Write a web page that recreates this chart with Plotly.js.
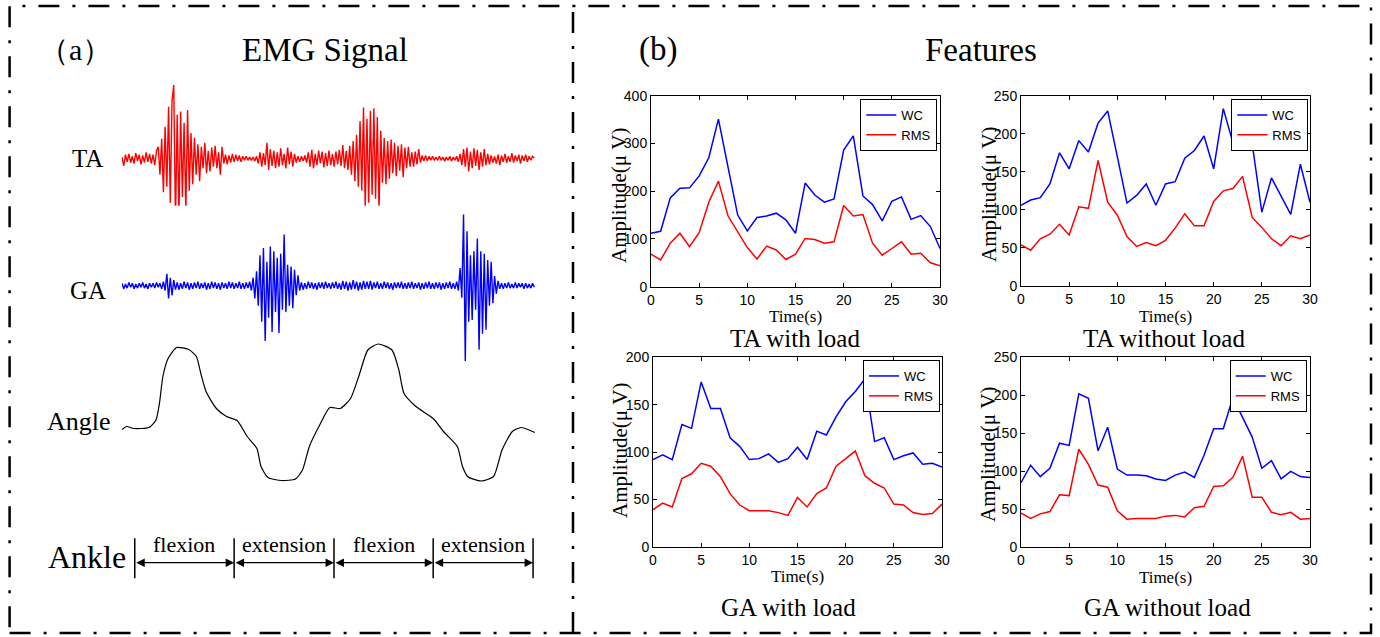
<!DOCTYPE html>
<html>
<head>
<meta charset="utf-8">
<script src="https://cdn.plot.ly/plotly-3.0.1.min.js"></script>
<style>
  html, body { margin: 0; padding: 0; background: #fff; }
  #fig { width: 1380px; height: 637px; }
</style>
</head>
<body>
<div id="fig"></div>
<script>
// ---------- (b) Features: WC and RMS per second ----------
const timeS = [0,1,2,3,4,5,6,7,8,9,10,11,12,13,14,15,16,17,18,19,20,21,22,23,24,25,26,27,28,29,30];

const taLoadWC  = [112,116,186,206,207,232,270,351,250,150,117,145,148,154,140,112,217,192,177,184,286,316,190,172,138,179,188,141,149,126,80];
const taLoadRMS = [68,56,91,112,84,113,177,221,148,115,82,58,85,77,57,68,101,99,91,94,170,148,151,91,66,80,94,68,70,50,44];

const taFreeWC  = [106,113,116,134,175,154,191,176,214,230,170,109,119,134,106,134,137,168,178,197,154,233,188,207,187,97,142,117,94,160,110];
const taFreeRMS = [54,47,62,68,81,67,104,102,165,110,93,65,52,57,53,60,76,95,79,79,111,125,128,144,90,77,62,53,66,62,67];

const gaLoadWC  = [92,97,92,129,125,174,146,146,115,106,92,93,98,89,93,105,92,122,118,137,153,164,177,111,115,92,96,99,87,88,84];
const gaLoadRMS = [39,46,42,72,77,88,85,74,56,44,38,38,38,36,33,52,42,56,62,85,93,101,75,67,62,45,44,36,34,35,45];

const gaFreeWC  = [85,108,93,104,137,134,202,196,127,158,103,95,95,94,90,88,95,99,92,121,156,156,197,171,145,104,114,90,100,93,92];
const gaFreeRMS = [45,38,44,47,69,68,129,109,82,79,48,37,38,38,38,41,42,40,52,54,80,81,92,120,66,66,46,43,46,37,38];

const seriesNames = ['WC', 'RMS'];
const panelTitles = ['TA with load', 'TA without load', 'GA with load', 'GA without load'];
const amplitudeTitle = 'Amplitude(μ V)';

// ---------- (a) EMG signal: raw samples (normalised amplitude) ----------
const taEmg = [
  0.02,-0.09,0.05,-0.04,0.06,-0.05,0.03,-0.06,0.07,-0.03,0.05,-0.07,0.04,-0.05,0.08,-0.04,0.06,-0.06,0.05,-0.08,0.10,
  0.15,-0.20,0.25,-0.42,0.40,-0.35,0.65,-0.55,0.72,0.92,-0.81,0.55,-0.72,0.59,-0.48,0.45,-0.66,0.61,-0.40,0.32,-0.32,0.26,
  -0.20,0.18,-0.28,0.15,-0.12,0.20,-0.18,0.10,-0.16,0.14,-0.10,0.16,-0.12,0.08,-0.20,0.15,
  -0.06,0.05,-0.07,0.04,-0.05,0.06,-0.04,0.05,-0.03,0.04,-0.04,0.03,-0.02,0.03,-0.02,0.02,-0.02,0.02,-0.03,0.03,
  -0.06,0.08,-0.10,0.07,-0.08,0.20,-0.14,0.12,-0.09,0.10,-0.12,0.08,-0.10,0.13,-0.08,0.06,-0.12,0.14,-0.07,0.09,-0.10,0.06,-0.05,
  0.03,-0.04,0.03,-0.03,0.04,-0.05,
  0.08,-0.10,0.11,-0.12,0.06,-0.08,0.10,-0.06,0.09,-0.11,0.07,-0.09,0.10,-0.08,0.06,-0.10,0.09,-0.07,0.11,-0.09,0.17,-0.12,0.10,
  -0.14,0.16,-0.20,0.22,-0.28,0.30,-0.35,0.47,-0.40,
  0.64,-0.62,0.50,-0.55,0.60,-0.45,0.63,-0.50,0.52,-0.64,
  0.35,-0.30,0.26,-0.32,0.22,-0.25,0.24,-0.18,0.20,-0.22,0.16,-0.15,0.18,-0.23,0.14,-0.12,0.15,-0.10,0.08,-0.10,0.09,-0.07,0.12,
  -0.05,0.04,-0.03,0.04,-0.03,0.03,-0.02,0.03,-0.02,0.02,-0.02,0.03,-0.02,0.02,-0.03,0.02,-0.02,0.03,-0.03,0.02,-0.02,0.03,-0.04,
  0.06,-0.08,0.12,-0.10,0.14,-0.16,0.09,-0.12,0.13,-0.09,0.11,-0.14,0.08,-0.10,0.12,-0.08,0.06,-0.07,
  0.04,-0.05,0.03,-0.06,0.05,-0.08,0.04,-0.04,0.06,-0.05,0.03,-0.04,0.07,-0.05,0.04,-0.03,0.05,-0.06,0.04,-0.03,0.05,-0.04,0.03,-0.02,0.03,0.01
];

const gaEmg = [
  0.03,-0.04,0.02,-0.03,0.04,-0.02,0.03,-0.04,0.02,-0.03,0.03,-0.02,0.04,-0.03,0.02,-0.04,0.03,-0.02,0.03,-0.03,0.04,-0.02,0.03,-0.04,0.05,
  -0.06,0.15,-0.16,0.10,-0.12,0.07,-0.05,
  0.04,-0.05,0.03,-0.04,0.05,-0.03,0.04,-0.05,0.03,-0.04,0.04,-0.03,0.05,-0.04,0.03,-0.03,0.04,-0.05,0.03,-0.04,0.05,-0.03,
  0.04,-0.04,0.03,-0.05,0.04,-0.03,0.03,-0.04,0.05,-0.03,0.04,-0.04,0.03,-0.03,0.05,-0.04,0.03,-0.04,0.04,-0.03,0.05,-0.06,
  0.10,-0.16,0.18,-0.25,0.38,-0.45,0.47,-0.69,0.30,-0.40,0.49,-0.58,0.43,-0.33,0.35,-0.59,0.40,-0.30,0.64,-0.33,0.26,-0.25,0.24,-0.28,0.20,-0.12,0.13,
  -0.06,0.04,-0.05,0.03,-0.04,0.05,-0.03,0.04,-0.04,0.03,-0.05,0.04,-0.03,0.04,-0.04,0.05,-0.03,0.03,-0.04,0.04,
  -0.03,0.05,-0.04,0.03,-0.05,0.06,-0.04,0.05,-0.06,0.04,-0.05,0.07,-0.04,0.05,-0.06,0.04,-0.05,0.06,-0.04,0.05,
  -0.04,0.06,-0.05,0.04,-0.03,0.05,-0.04,0.03,-0.04,0.05,-0.03,0.04,-0.04,0.03,-0.05,0.04,-0.03,0.04,-0.03,0.05,
  -0.04,0.03,-0.04,0.04,-0.03,0.05,-0.04,0.03,-0.03,0.04,-0.05,0.03,-0.04,0.04,-0.03,0.05,-0.04,0.03,-0.04,0.04,
  -0.03,0.04,-0.05,0.03,-0.04,0.04,-0.03,0.05,-0.04,0.03,-0.04,0.05,-0.06,
  0.22,-0.15,0.89,-0.94,0.68,-0.45,0.38,-0.43,0.43,-0.30,0.59,-0.80,0.43,-0.60,0.40,-0.55,0.32,-0.25,0.30,-0.22,0.12,-0.10,
  0.06,-0.04,0.03,-0.04,0.03,-0.03,0.04,-0.03,0.02,-0.03,0.04,-0.03,0.03,-0.02,0.03,-0.04,0.03,-0.03,0.02,-0.03,0.03,-0.02
];

// ankle angle (degrees) against the EMG sample index
const angleSample = [0,2.7,6.7,15.7,19.7,21.7,23.7,26.7,31.7,38.7,43.1,45.7,48.7,54.7,60.6,66.7,72.6,78.2,80.6,84.6,
  92.6,100.6,104.6,108.6,114.6,120.5,126.5,132.5,137.5,142.5,148.5,156.5,160.5,163.5,170.4,180.4,186.4,194.4,197.4,200.4,
  208.3,215.4,220.3,226.3,231.3,239.3];
const angleDeg = [0.3,0.9,0.5,0.7,2.2,5.5,10.9,14.5,16.7,16.3,14.9,11.5,7.9,4.5,2.9,2.1,-1.1,-3.5,-7.1,-9.3,
  -9.9,-9.6,-7.8,-3.1,1.2,4.7,4.5,6.5,11.2,16.2,17.4,16.2,12.2,7.5,4.9,2.5,-0.1,-3.1,-7.1,-9.1,
  -10.0,-9.1,-3.8,-0.1,0.7,-0.3];

// ankle phases: boundaries in EMG sample index
const phaseBounds = [7.4, 65.0, 122.9, 180.4, 238.3];
const phaseNames = ['flexion', 'extension', 'flexion', 'extension'];

// ---------- helpers ----------
const W = 1380, H = 637;
const fx = p => p / W;          // pixel column -> paper x
const fy = p => 1 - p / H;      // pixel row -> paper y

const serif = 'Liberation Serif, Times New Roman, serif';
const sans = 'Liberation Sans, Arial, sans-serif';
const BLUE = '#0000ff', RED = '#ff0000';

const traces = [];

function addFeature(wc, rms, n) {
  const xa = n === 1 ? 'x' : 'x' + n;
  const ya = n === 1 ? 'y' : 'y' + n;
  const lg = n === 1 ? 'legend' : 'legend' + n;
  traces.push({x: timeS, y: wc, name: seriesNames[0], type: 'scatter', mode: 'lines',
    line: {color: BLUE, width: 1.5}, xaxis: xa, yaxis: ya, legend: lg});
  traces.push({x: timeS, y: rms, name: seriesNames[1], type: 'scatter', mode: 'lines',
    line: {color: RED, width: 1.5}, xaxis: xa, yaxis: ya, legend: lg});
}
addFeature(taLoadWC, taLoadRMS, 1);
addFeature(taFreeWC, taFreeRMS, 2);
addFeature(gaLoadWC, gaLoadRMS, 3);
addFeature(gaFreeWC, gaFreeRMS, 4);

traces.push({y: taEmg, x0: 0, dx: 1, type: 'scatter', mode: 'lines', showlegend: false,
  line: {color: RED, width: 1.4}, xaxis: 'x5', yaxis: 'y5'});
traces.push({y: gaEmg, x0: 0, dx: 1, type: 'scatter', mode: 'lines', showlegend: false,
  line: {color: BLUE, width: 1.4}, xaxis: 'x5', yaxis: 'y6'});
traces.push({x: angleSample, y: angleDeg, type: 'scatter', mode: 'lines', showlegend: false,
  line: {color: '#000', width: 1.2, shape: 'spline', smoothing: 0.6}, xaxis: 'x5', yaxis: 'y7'});

function featX(d0, d1, anchor) {
  return {domain: [fx(d0), fx(d1)], anchor, range: [0, 30], tick0: 0, dtick: 5,
    showline: true, linecolor: '#000', linewidth: 1, mirror: 'ticks',
    ticks: 'inside', ticklen: 4, tickcolor: '#000', showgrid: false, zeroline: false,
    tickfont: {family: sans, size: 14, color: '#000'},
    title: {text: 'Time(s)', font: {family: serif, size: 17, color: '#000'}, standoff: 2},
    fixedrange: true};
}
function featY(top, bottom, anchor, ymax, step) {
  return {domain: [fy(bottom), fy(top)], anchor, range: [0, ymax], tick0: 0, dtick: step,
    showline: true, linecolor: '#000', linewidth: 1, mirror: 'ticks',
    ticks: 'inside', ticklen: 4, tickcolor: '#000', showgrid: false, zeroline: false,
    tickfont: {family: sans, size: 14, color: '#000'},
    fixedrange: true};
}
function legendBox(right, top) {
  return {x: fx(right), y: fy(top), xanchor: 'right', yanchor: 'top', xref: 'paper', yref: 'paper',
    bgcolor: '#fff', bordercolor: '#000', borderwidth: 1, itemwidth: 30, traceorder: 'normal',
    font: {family: sans, size: 13, color: '#000'}};
}
function label(text, cx, cy, size, extra) {
  return Object.assign({text, x: fx(cx), y: fy(cy), xref: 'paper', yref: 'paper',
    xanchor: 'center', yanchor: 'middle', showarrow: false,
    font: {family: serif, size, color: '#000'}}, extra || {});
}

const annotations = [
  label('（a）', 75, 50, 30),
  label('EMG Signal', 324.5, 50, 33),
  label('(b)', 658, 50, 33),
  label('Features', 981, 50, 33),
  label('TA', 87.4, 159, 25),
  label('GA', 87.6, 290, 25),
  label('Angle', 79.4, 421.5, 26),
  label('Ankle', 87, 557, 32),
  label(panelTitles[0], 795, 338, 25),
  label(panelTitles[1], 1164, 338, 25),
  label(panelTitles[2], 788, 607, 25),
  label(panelTitles[3], 1167, 607, 25),
  // vertical amplitude titles beside each feature plot
  label(amplitudeTitle, 619, 195, 21, {textangle: -90}),
  label(amplitudeTitle, 989, 194, 21, {textangle: -90}),
  label(amplitudeTitle, 620, 450, 21, {textangle: -90}),
  label(amplitudeTitle, 988, 454, 21, {textangle: -90})
];

const shapes = [];
const arrowRow = fy(562.7);
phaseBounds.forEach(b => {
  shapes.push({type: 'line', xref: 'x5', yref: 'paper', x0: b, x1: b, y0: fy(578.3), y1: fy(538.3),
    line: {color: '#000', width: 1.5}});
});
phaseNames.forEach((name, i) => {
  const a = phaseBounds[i], b = phaseBounds[i + 1];
  annotations.push({text: '', xref: 'x5', axref: 'x5', x: b, ax: a, yref: 'paper', y: arrowRow,
    ayref: 'pixel', ay: 0, showarrow: true, arrowside: 'end+start', arrowhead: 2, startarrowhead: 2,
    arrowsize: 1.3, startarrowsize: 1.3, arrowwidth: 1.3, arrowcolor: '#000', standoff: 0, startstandoff: 0});
  annotations.push({text: name, xref: 'x5', x: (a + b) / 2, yref: 'paper', y: fy(544),
    xanchor: 'center', yanchor: 'middle', showarrow: false,
    font: {family: serif, size: 22, color: '#000'}});
});

// dash-dot frame and the divider between panels
const frameLine = {color: '#000', width: 2.5, dash: '21px,13px,3px,13px'};
shapes.push({type: 'rect', xref: 'paper', yref: 'paper', x0: fx(9.6), x1: fx(1371), y0: fy(633), y1: fy(6),
  line: frameLine, fillcolor: 'rgba(0,0,0,0)'});
shapes.push({type: 'line', xref: 'paper', yref: 'paper', x0: fx(573), x1: fx(573), y0: fy(633), y1: fy(6),
  line: frameLine});

const layout = {
  width: W, height: H,
  margin: {l: 0, r: 0, t: 0, b: 0},
  paper_bgcolor: '#fff', plot_bgcolor: '#fff',
  hovermode: false,
  xaxis:  featX(651, 940, 'y'),
  yaxis:  featY(95.7, 286.7, 'x', 400, 100),
  xaxis2: featX(1021, 1310, 'y2'),
  yaxis2: featY(95.7, 286, 'x2', 250, 50),
  xaxis3: featX(653, 942, 'y3'),
  yaxis3: featY(357.3, 546.7, 'x3', 200, 50),
  xaxis4: featX(1021, 1310, 'y4'),
  yaxis4: featY(357.3, 547.3, 'x4', 250, 50),
  xaxis5: {domain: [fx(122), fx(536)], range: [0, 240], anchor: 'y5', visible: false, fixedrange: true},
  yaxis5: {domain: [fy(238.7), fy(78.7)], range: [-1, 1], anchor: 'x5', visible: false, fixedrange: true},
  yaxis6: {domain: [fy(365.7), fy(205.7)], range: [-1, 1], anchor: 'x5', visible: false, fixedrange: true},
  yaxis7: {domain: [fy(501), fy(321)], range: [-14, 22], anchor: 'x5', visible: false, fixedrange: true},
  legend:  legendBox(937.3, 99),
  legend2: legendBox(1308.3, 99),
  legend3: legendBox(940, 360),
  legend4: legendBox(1306.7, 360),
  annotations, shapes
};

Plotly.newPlot('fig', traces, layout, {displayModeBar: false, staticPlot: true});
</script>
</body>
</html>
